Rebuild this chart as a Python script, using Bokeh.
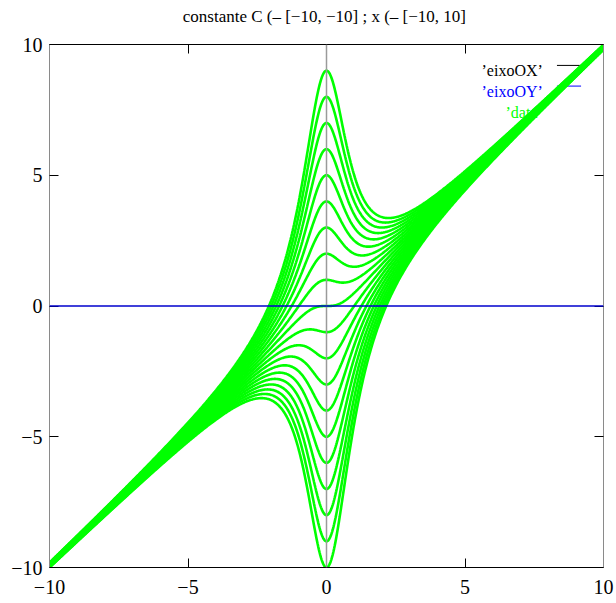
import numpy as np
from bokeh.plotting import figure
from bokeh.models import (ColumnDataSource, FixedTicker, LinearAxis, Range1d,
                          Span, Title)
from bokeh.core.properties import value
from bokeh.embed import file_html
from bokeh.resources import INLINE

# Family of solutions of (1 + x^2) y' + 2 x y = 3 x^2  ->  y = (x^3 + C) / (1 + x^2)
C_VALUES = [-10, -9, -8, -7, -6, -5, -4, -3, -2, -1,
            0, 1, 2, 3, 4, 5, 6, 7, 8, 9]
X_MIN, X_MAX = -10, 10
TICKS = [-10, -5, 0, 5, 10]

TITLE = "constante C (– [−10, −10] ;  x (– [−10, 10]"
KEY_LABELS = ["’eixoOX’", "’eixoOY’", "’data’"]
KEY_COLORS = ["black", "#0000ff", "#00ff00"]

SERIF = "Liberation Serif"
GREEN = "#00ff00"

x = np.linspace(X_MIN, X_MAX, 801)
xs = [x for _ in C_VALUES]
ys = [(x ** 3 + c) / (1 + x ** 2) for c in C_VALUES]
curves = ColumnDataSource(dict(xs=xs, ys=ys, c=C_VALUES))

p = figure(width=616, height=603,
           x_range=Range1d(X_MIN, X_MAX), y_range=Range1d(-10, 10),
           output_backend="svg", toolbar_location=None,
           min_border_left=49, min_border_right=13,
           min_border_top=44, min_border_bottom=36,
           background_fill_color="white", border_fill_color="white")
p.outline_line_color = None
p.grid.visible = False

# trailing empty line lifts the heading clear of the top border
p.title = Title(text=TITLE + "\n", align="center",
                text_font=SERIF, text_font_size="17px",
                text_line_height=1.0,
                text_font_style="normal", text_color="black", standoff=0)

def style_axis(ax, labels=True, line_color="black"):
    ax.ticker = FixedTicker(ticks=TICKS)
    ax.minor_tick_line_color = None
    ax.major_tick_in = 9
    ax.major_tick_out = 0
    ax.major_tick_line_color = "black"
    ax.axis_line_color = line_color
    ax.axis_line_width = 1
    if labels:
        ax.major_label_text_font = SERIF
        ax.major_label_text_font_size = "20px"
        ax.major_label_text_color = "black"
    else:
        # mirrored border: ticks only, labels not painted
        ax.major_label_text_color = None
        ax.major_label_text_font_size = "2px"
        ax.major_label_standoff = 0

style_axis(p.xaxis[0])
p.xaxis[0].major_label_standoff = 12
style_axis(p.yaxis[0], line_color="#8a8a8a")
p.yaxis[0].major_label_standoff = 7

top_axis = LinearAxis()
right_axis = LinearAxis()
style_axis(top_axis, labels=False)
style_axis(right_axis, labels=False, line_color="#8a8a8a")
p.add_layout(top_axis, "above")
p.add_layout(right_axis, "right")

# key: labels right-aligned, sample lines to their right (data units)
key_text_x = 7.81
key_text_y = [9.02, 8.20, 7.40]
key_line_y = [9.20, 8.41, 7.59]
p.text(x=[key_text_x] * 3, y=key_text_y, text=KEY_LABELS,
       text_color=KEY_COLORS, text_align="right", text_baseline="middle",
       text_font=value(SERIF), text_font_size="16px")
p.segment(x0=[8.32, 8.32], y0=key_line_y[:2], x1=[9.19, 9.19],
          y1=key_line_y[:2], line_color=KEY_COLORS[:2], line_width=1)

# the solution curves
p.multi_line(xs="xs", ys="ys", source=curves, line_color=GREEN,
             line_width=2.6)

# reference axes through the origin
p.add_layout(Span(location=0, dimension="height", line_color="#9a9a9a",
                  line_width=1.5))
p.add_layout(Span(location=0, dimension="width", line_color="#0000cc",
                  line_width=1.3))

open("out.html", "w").write(file_html(p, INLINE))
